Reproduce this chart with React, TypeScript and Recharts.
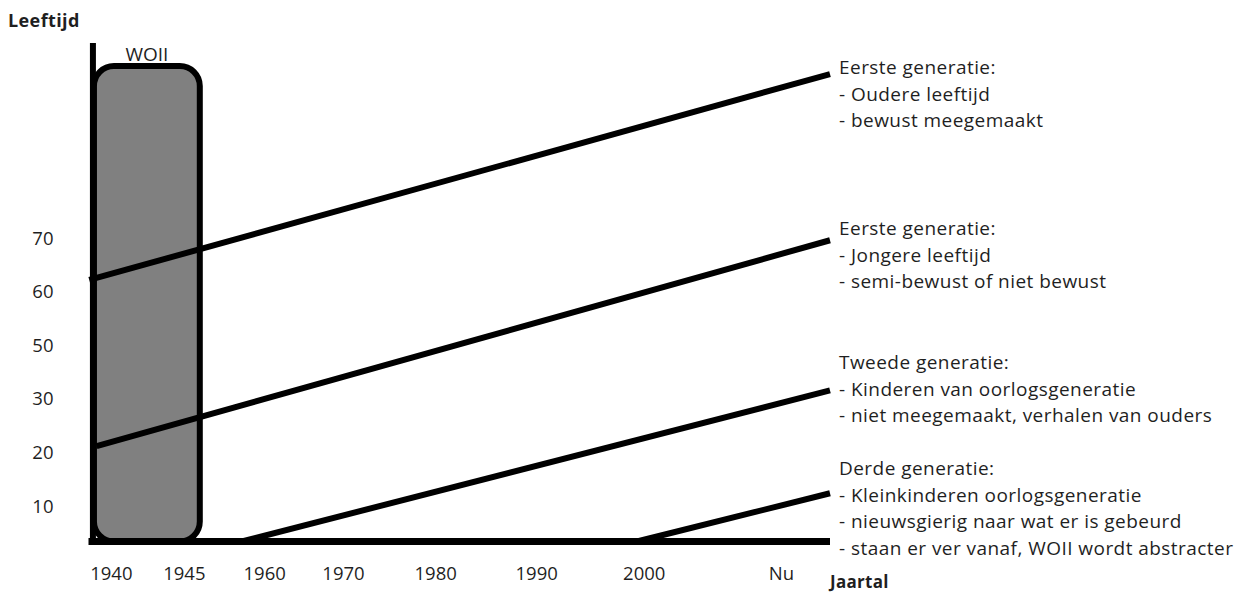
import React from 'react';
import {
  ComposedChart,
  Line,
  XAxis,
  YAxis,
  ReferenceArea,
  ReferenceLine,
  Rectangle,
} from 'recharts';

// timeline positions (abstract units along the drawn axis) and their labels
const xTickPos = [2.5, 12.4, 23.3, 34.0, 46.5, 60.2, 74.8, 93.4];
const xTickLabels = ['1940', '1945', '1960', '1970', '1980', '1990', '2000', 'Nu'];

// age levels as drawn (evenly spaced, labels are not linear)
const yTickPos = [0, 1, 2, 3, 4, 5];
const yTickLabels = ['10', '20', '30', '50', '60', '70'];

const eersteOud = [
  { x: -0.5, y: 4.22 },
  { x: 100, y: 8.06 },
];
const eersteJong = [
  { x: 0.5, y: 1.12 },
  { x: 100, y: 4.96 },
];
const tweede = [
  { x: 20.2, y: -0.66 },
  { x: 100, y: 2.16 },
];
const derde = [
  { x: 73.8, y: -0.66 },
  { x: 100, y: 0.24 },
];

const woiiSpan = { x1: 0.14, x2: 14.5, y1: -0.66, y2: 8.21 };

const notes = [
  ['Eerste generatie:', '- Oudere leeftijd', '- bewust meegemaakt'],
  ['Eerste generatie:', '- Jongere leeftijd', '- semi-bewust of niet bewust'],
  ['Tweede generatie:', '- Kinderen van oorlogsgeneratie', '- niet meegemaakt, verhalen van ouders'],
  [
    'Derde generatie:',
    '- Kleinkinderen oorlogsgeneratie',
    '- nieuwsgierig naar wat er is gebeurd',
    '- staan er ver vanaf, WOII wordt abstracter',
  ],
];
const noteTops = [46, 207, 341, 447];

const FONT = '"Open Sans", sans-serif';
const INK = '#1f1f1f';

const fmtX = (v: number) => xTickLabels[xTickPos.indexOf(v)] ?? '';
const fmtY = (v: number) => yTickLabels[yTickPos.indexOf(v)] ?? '';

export default function App() {
  return (
    <div style={{ position: 'relative', width: 1229, height: 585, fontFamily: FONT }}>
      <ComposedChart
        width={1229}
        height={577}
        margin={{ top: 35, right: 407, bottom: 3.5, left: 0.5 }}
      >
        <XAxis
          type="number"
          dataKey="x"
          domain={[-0.6, 100]}
          ticks={xTickPos}
          tickFormatter={fmtX}
          axisLine={{ stroke: '#000', strokeWidth: 7 }}
          tickLine={false}
          tickSize={0}
          tickMargin={25}
          height={40}
          interval={0}
          tick={{ fill: INK, fontSize: 18.5, fontFamily: FONT }}
        />
        <YAxis
          type="number"
          dataKey="y"
          domain={[-0.66, 8.64]}
          ticks={yTickPos}
          tickFormatter={fmtY}
          axisLine={false}
          tickLine={false}
          tickSize={0}
          tickMargin={35}
          width={80}
          interval={0}
          tick={{ fill: INK, fontSize: 18.5, fontFamily: FONT }}
        />
        <ReferenceLine x={0} stroke="#000" strokeWidth={6} ifOverflow="visible" />
        <ReferenceArea
          {...woiiSpan}
          ifOverflow="visible"
          fill="#808080"
          fillOpacity={1}
          stroke="#000"
          strokeWidth={6}
          shape={(p: any) => <Rectangle {...p} radius={20} />}
          label={{ value: 'WOII', position: 'top', offset: 5, fill: INK, fontSize: 19, fontFamily: FONT }}
        />
        {[eersteOud, eersteJong, tweede, derde].map((d, i) => (
          <Line
            key={i}
            data={d}
            dataKey="y"
            stroke="#000"
            strokeWidth={6}
            dot={false}
            activeDot={false}
            isAnimationActive={false}
          />
        ))}
      </ComposedChart>
      <div style={{ position: 'absolute', left: 0, top: 1, fontWeight: 700, fontSize: 18, lineHeight: '22px', letterSpacing: '0.4px', color: INK }}>
        Leeftijd
      </div>
      <div style={{ position: 'absolute', left: 822, top: 564, fontWeight: 700, fontSize: 17, lineHeight: '20px', letterSpacing: '0.3px', color: INK }}>
        Jaartal
      </div>
      {notes.map((block, i) => (
        <div
          key={i}
          style={{
            position: 'absolute',
            left: 831,
            top: noteTops[i],
            fontSize: 19,
            lineHeight: '26.7px',
            letterSpacing: '0.45px',
            color: INK,
            whiteSpace: 'nowrap',
          }}
        >
          {block.map((t, j) => (
            <div key={j}>{t}</div>
          ))}
        </div>
      ))}
    </div>
  );
}
